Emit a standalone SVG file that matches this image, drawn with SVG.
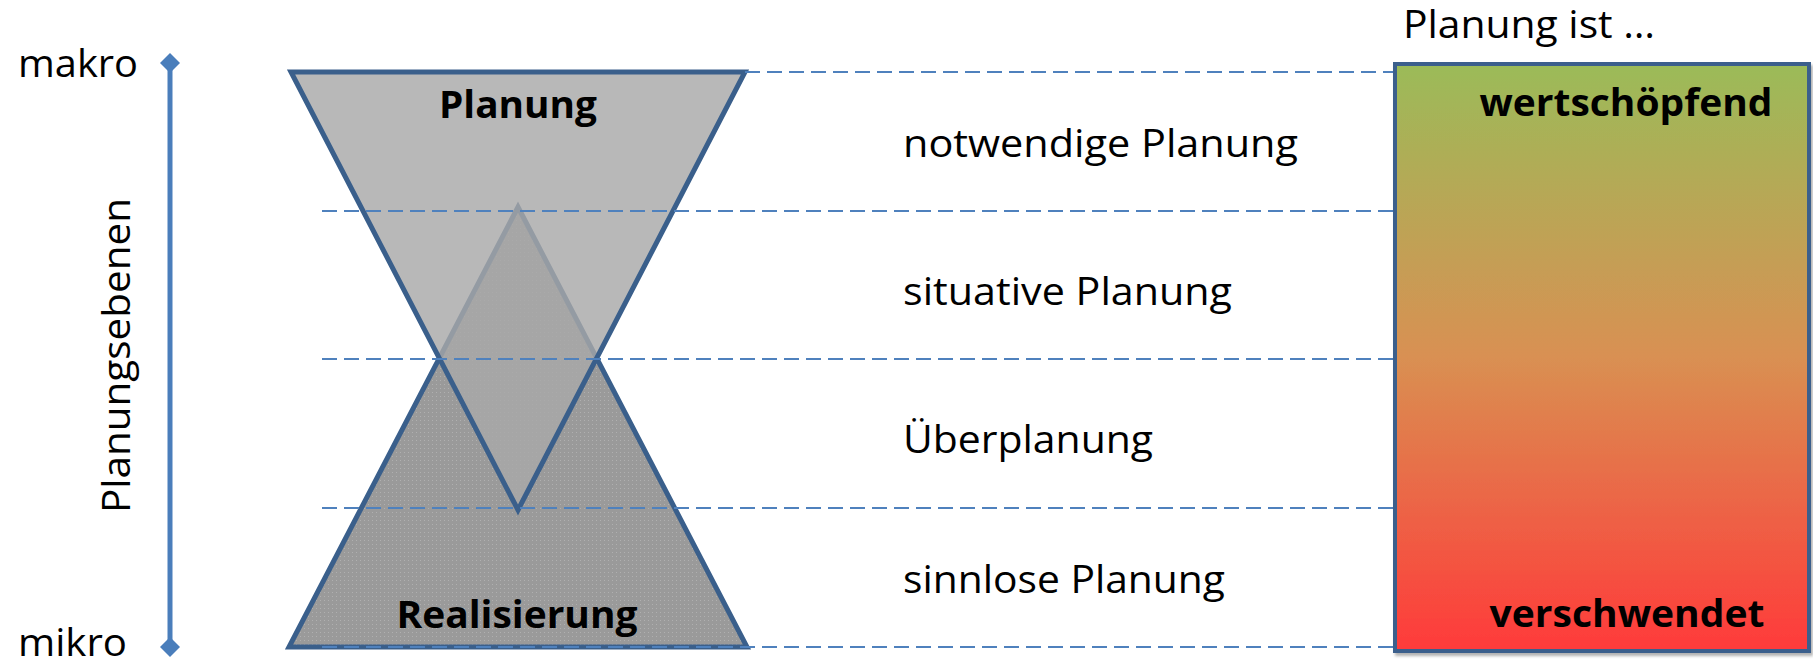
<svg xmlns="http://www.w3.org/2000/svg" width="1813" height="664" viewBox="0 0 1813 664">
<style>
.lbl{font-family:"Open Sans","Liberation Sans",sans-serif;font-size:38px;fill:#000}
.bold{font-family:"Open Sans","Liberation Sans",sans-serif;font-size:38px;font-weight:bold;fill:#000}
.tri{stroke:#3a5f8b;stroke-width:5;stroke-linejoin:miter}
.dash{stroke:#4f81bd;stroke-width:2;stroke-dasharray:15 7;fill:none}
</style>
<defs>
<linearGradient id="grad" x1="0" y1="0" x2="0" y2="1">
<stop offset="0" stop-color="#9bbb59"/>
<stop offset="0.5" stop-color="#d99052"/>
<stop offset="1" stop-color="#ff3a3a"/>
</linearGradient>
<pattern id="texBot" width="4" height="4" patternUnits="userSpaceOnUse">
<rect width="4" height="4" fill="#9a9a9a"/>
<rect width="1" height="1" fill="#b0b0b0"/>
</pattern>
<marker id="dia" viewBox="-5 -5 10 10" markerWidth="4" markerHeight="4" refX="0" refY="0" orient="auto" markerUnits="strokeWidth">
<path d="M-5 0 L0 -5 L5 0 L0 5 Z" fill="#4a7ebb"/>
</marker>
<filter id="sh" x="-5%" y="-5%" width="110%" height="110%">
<feDropShadow dx="2" dy="3" stdDeviation="1.5" flood-color="#000" flood-opacity="0.3"/>
</filter>
</defs>
<rect width="1813" height="664" fill="#fff"/>

<g id="axis">
<line x1="170" y1="63" x2="170" y2="647" stroke="#4a7ebb" stroke-width="5" marker-start="url(#dia)" marker-end="url(#dia)"/>
<text class="lbl" x="18" y="77" textLength="120" lengthAdjust="spacingAndGlyphs">makro</text>
<text class="lbl" x="18" y="656" textLength="109" lengthAdjust="spacingAndGlyphs">mikro</text>
<text class="lbl" transform="translate(130 513) rotate(-90)" x="0" y="0" textLength="315" lengthAdjust="spacingAndGlyphs">Planungsebenen</text>
</g>

<g id="realisierung">
<polygon class="tri" points="289,647 747,647 518,207" fill="url(#texBot)"/>
</g>
<g id="planung">
<polygon class="tri" points="291,72 745,72 518,510" fill="#a8a8a8" fill-opacity="0.82"/>
</g>

<g id="connectors">
<line class="dash" x1="745" y1="72" x2="1395" y2="72"/>
<line class="dash" x1="322" y1="211" x2="1395" y2="211"/>
<line class="dash" x1="322" y1="359" x2="1395" y2="359"/>
<line class="dash" x1="322" y1="508" x2="1395" y2="508"/>
<line class="dash" x1="322" y1="647" x2="1395" y2="647"/>
</g>

<text class="bold" x="518" y="118" text-anchor="middle" textLength="158" lengthAdjust="spacingAndGlyphs">Planung</text>
<text class="bold" x="517" y="628" text-anchor="middle" textLength="241" lengthAdjust="spacingAndGlyphs">Realisierung</text>

<g id="levels">
<text class="lbl" x="903" y="157" textLength="395" lengthAdjust="spacingAndGlyphs">notwendige Planung</text>
<text class="lbl" x="903" y="305" textLength="329" lengthAdjust="spacingAndGlyphs">situative Planung</text>
<text class="lbl" x="903" y="453" textLength="250" lengthAdjust="spacingAndGlyphs">Überplanung</text>
<text class="lbl" x="903" y="593" textLength="322" lengthAdjust="spacingAndGlyphs">sinnlose Planung</text>
</g>

<g id="bewertung">
<text class="lbl" x="1403" y="38" textLength="252" lengthAdjust="spacingAndGlyphs">Planung ist …</text>
<rect x="1395" y="64" width="414" height="587" fill="url(#grad)" stroke="#3b5e8c" stroke-width="4" filter="url(#sh)"/>
<text class="bold" x="1626" y="116" text-anchor="middle" textLength="293" lengthAdjust="spacingAndGlyphs">wertschöpfend</text>
<text class="bold" x="1627" y="627" text-anchor="middle" textLength="275" lengthAdjust="spacingAndGlyphs">verschwendet</text>
</g>
</svg>
